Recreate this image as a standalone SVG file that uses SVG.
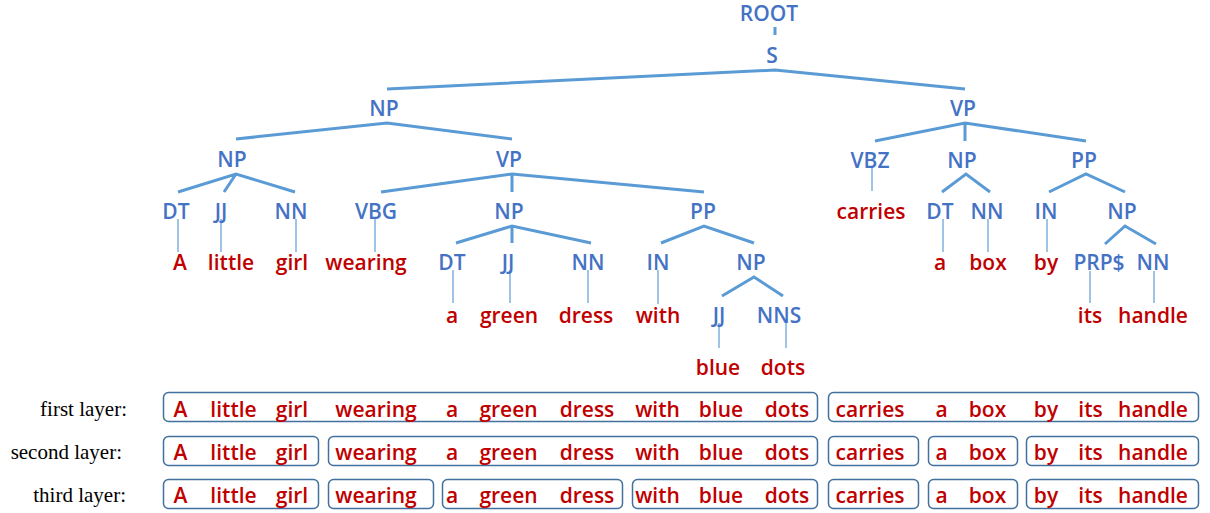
<svg xmlns="http://www.w3.org/2000/svg" width="1210" height="513" viewBox="0 0 1210 513">
<style>
.t{font-family:"Open Sans","Noto Sans",sans-serif;font-size:21px;font-weight:600;text-anchor:middle}
.tag{fill:#4472C4}
.w{fill:#C00000}
.br{stroke:#5B9BD5;stroke-width:3;fill:none;stroke-linecap:butt}
.st{stroke:#7FB0DE;stroke-width:1.5;fill:none}
.box{fill:none;stroke:#41719C;stroke-width:1.5}
.lab{font-family:"Liberation Serif",serif;font-size:21px;fill:#000;text-anchor:end}
</style>
<rect width="1210" height="513" fill="#fff"/>
<g id="connectors">
<line class="br" x1="775" y1="27" x2="775" y2="35"/>
<path class="br" d="M387,89 L775,70 L965,89"/>
<path class="br" d="M236,139 L387,123 L512,139"/>
<path class="br" d="M875,141 L965,123 L1086,141 M965,123 L965,141"/>
<path class="br" d="M178,192 L236,174 L295,192 M236,174 L224,192"/>
<path class="br" d="M381,192 L512,174 L704,192 M512,174 L512,192"/>
<path class="br" d="M942,192 L966,174 L990,192"/>
<path class="br" d="M1049,192 L1086,174 L1125,192"/>
<path class="br" d="M456,243 L512,226 L591,243 M512,226 L512,243"/>
<path class="br" d="M661,243 L704,226 L754,243"/>
<path class="br" d="M1105,244 L1125,226 L1156,244"/>
<path class="br" d="M722,296 L754,277 L783,296"/>
<line class="st" x1="872" y1="168" x2="872" y2="191"/>
<line class="st" x1="178" y1="219" x2="178" y2="252"/>
<line class="st" x1="221" y1="219" x2="221" y2="252"/>
<line class="st" x1="296" y1="219" x2="296" y2="252"/>
<line class="st" x1="375" y1="219" x2="375" y2="252"/>
<line class="st" x1="943" y1="219" x2="943" y2="252"/>
<line class="st" x1="988" y1="219" x2="988" y2="252"/>
<line class="st" x1="1047" y1="219" x2="1047" y2="252"/>
<line class="st" x1="453" y1="270" x2="453" y2="303"/>
<line class="st" x1="510" y1="270" x2="510" y2="303"/>
<line class="st" x1="588" y1="270" x2="588" y2="303"/>
<line class="st" x1="658" y1="270" x2="658" y2="304"/>
<line class="st" x1="1090" y1="271" x2="1090" y2="303"/>
<line class="st" x1="1154" y1="271" x2="1154" y2="303"/>
<line class="st" x1="719" y1="323" x2="719" y2="348"/>
<line class="st" x1="786" y1="323" x2="786" y2="348"/>
</g>
<g id="n-root"><text class="t tag" x="769" y="21">ROOT</text></g>
<g id="n-s"><text class="t tag" x="772" y="63">S</text></g>
<g id="n-np1"><text class="t tag" x="384" y="116">NP</text></g>
<g id="n-vp1"><text class="t tag" x="963" y="116">VP</text></g>
<g id="n-np2"><text class="t tag" x="232" y="167">NP</text></g>
<g id="n-vp2"><text class="t tag" x="509" y="167">VP</text></g>
<g id="n-vbz"><text class="t tag" x="870" y="168">VBZ</text></g>
<g id="n-np3"><text class="t tag" x="962" y="168">NP</text></g>
<g id="n-pp1"><text class="t tag" x="1084" y="168">PP</text></g>
<g id="n-dt1"><text class="t tag" x="176" y="219">DT</text></g>
<g id="n-jj1"><text class="t tag" x="221" y="219">JJ</text></g>
<g id="n-nn1"><text class="t tag" x="291" y="219">NN</text></g>
<g id="n-vbg"><text class="t tag" x="376" y="219">VBG</text></g>
<g id="n-np4"><text class="t tag" x="509" y="219">NP</text></g>
<g id="n-pp2"><text class="t tag" x="703" y="219">PP</text></g>
<g id="w-carries"><text class="t w" x="871" y="219">carries</text></g>
<g id="n-dt2"><text class="t tag" x="940" y="219">DT</text></g>
<g id="n-nn2"><text class="t tag" x="987" y="219">NN</text></g>
<g id="n-in1"><text class="t tag" x="1046" y="219">IN</text></g>
<g id="n-np5"><text class="t tag" x="1122" y="219">NP</text></g>
<g id="w-A"><text class="t w" x="180" y="270">A</text></g>
<g id="w-little"><text class="t w" x="231" y="270">little</text></g>
<g id="w-girl"><text class="t w" x="292" y="270">girl</text></g>
<g id="w-wearing"><text class="t w" x="366" y="270">wearing</text></g>
<g id="n-dt3"><text class="t tag" x="452" y="270">DT</text></g>
<g id="n-jj2"><text class="t tag" x="508" y="270">JJ</text></g>
<g id="n-nn3"><text class="t tag" x="588" y="270">NN</text></g>
<g id="n-in2"><text class="t tag" x="658" y="270">IN</text></g>
<g id="n-np6"><text class="t tag" x="751" y="270">NP</text></g>
<g id="w-a1"><text class="t w" x="940" y="270">a</text></g>
<g id="w-box"><text class="t w" x="988" y="270">box</text></g>
<g id="w-by"><text class="t w" x="1046" y="270">by</text></g>
<g id="n-prp"><text class="t tag" x="1099" y="270">PRP$</text></g>
<g id="n-nn4"><text class="t tag" x="1153" y="270">NN</text></g>
<g id="w-a2"><text class="t w" x="452" y="323">a</text></g>
<g id="w-green"><text class="t w" x="509" y="323">green</text></g>
<g id="w-dress"><text class="t w" x="586" y="323">dress</text></g>
<g id="w-with"><text class="t w" x="658" y="323">with</text></g>
<g id="n-jj3"><text class="t tag" x="719" y="323">JJ</text></g>
<g id="n-nns"><text class="t tag" x="779" y="323">NNS</text></g>
<g id="w-its"><text class="t w" x="1090" y="323">its</text></g>
<g id="w-handle"><text class="t w" x="1153" y="323">handle</text></g>
<g id="w-blue"><text class="t w" x="718" y="375">blue</text></g>
<g id="w-dots"><text class="t w" x="783" y="375">dots</text></g>
<g id="layers">
<text class="lab" x="127" y="416">first layer:</text>
<text class="lab" x="122" y="459">second layer:</text>
<text class="lab" x="126" y="502">third layer:</text>
<rect class="box" x="163.5" y="392.5" width="654" height="29" rx="5"/>
<rect class="box" x="828.5" y="392.5" width="370" height="29" rx="5"/>
<rect class="box" x="163.5" y="436.5" width="155" height="29" rx="5"/>
<rect class="box" x="328.5" y="436.5" width="489" height="29" rx="5"/>
<rect class="box" x="828.5" y="436.5" width="90" height="29" rx="5"/>
<rect class="box" x="928.5" y="436.5" width="89" height="29" rx="5"/>
<rect class="box" x="1026.5" y="436.5" width="172" height="29" rx="5"/>
<rect class="box" x="163.5" y="479.5" width="155" height="29" rx="5"/>
<rect class="box" x="328.5" y="479.5" width="105" height="29" rx="5"/>
<rect class="box" x="442.5" y="479.5" width="180" height="29" rx="5"/>
<rect class="box" x="632.5" y="479.5" width="185" height="29" rx="5"/>
<rect class="box" x="828.5" y="479.5" width="90" height="29" rx="5"/>
<rect class="box" x="928.5" y="479.5" width="89" height="29" rx="5"/>
<rect class="box" x="1026.5" y="479.5" width="172" height="29" rx="5"/>
<g class="t w">
<text x="180.5" y="417">A</text><text x="233.5" y="417">little</text><text x="292" y="417">girl</text><text x="376" y="417">wearing</text><text x="452" y="417">a</text><text x="508.5" y="417">green</text><text x="587" y="417">dress</text><text x="657.5" y="417">with</text><text x="721" y="417">blue</text><text x="787" y="417">dots</text><text x="870" y="417">carries</text><text x="941.5" y="417">a</text><text x="987.5" y="417">box</text><text x="1046" y="417">by</text><text x="1090.5" y="417">its</text><text x="1153" y="417">handle</text>
</g>
<g class="t w">
<text x="180.5" y="460">A</text><text x="233.5" y="460">little</text><text x="292" y="460">girl</text><text x="376" y="460">wearing</text><text x="452" y="460">a</text><text x="508.5" y="460">green</text><text x="587" y="460">dress</text><text x="657.5" y="460">with</text><text x="721" y="460">blue</text><text x="787" y="460">dots</text><text x="870" y="460">carries</text><text x="941.5" y="460">a</text><text x="987.5" y="460">box</text><text x="1046" y="460">by</text><text x="1090.5" y="460">its</text><text x="1153" y="460">handle</text>
</g>
<g class="t w">
<text x="180.5" y="503">A</text><text x="233.5" y="503">little</text><text x="292" y="503">girl</text><text x="376" y="503">wearing</text><text x="452" y="503">a</text><text x="508.5" y="503">green</text><text x="587" y="503">dress</text><text x="657.5" y="503">with</text><text x="721" y="503">blue</text><text x="787" y="503">dots</text><text x="870" y="503">carries</text><text x="941.5" y="503">a</text><text x="987.5" y="503">box</text><text x="1046" y="503">by</text><text x="1090.5" y="503">its</text><text x="1153" y="503">handle</text>
</g>
</g>
</svg>
